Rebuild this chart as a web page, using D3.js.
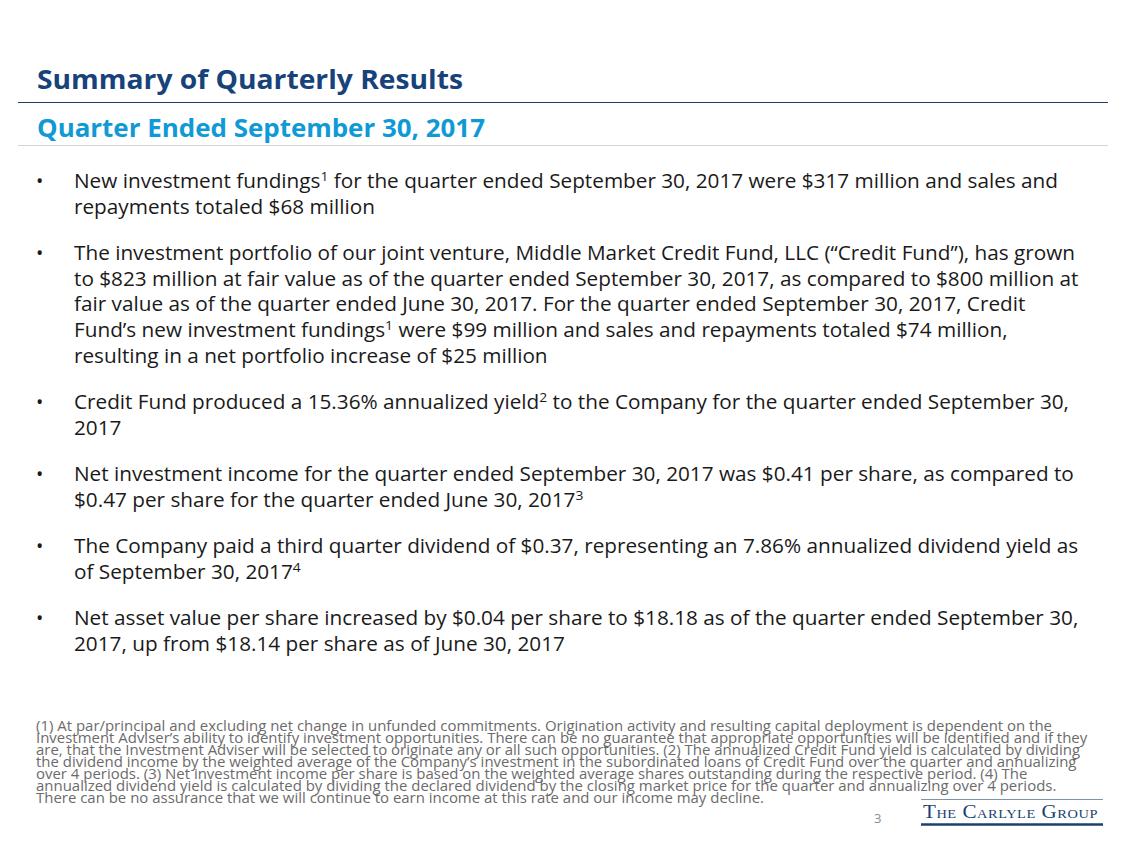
<!DOCTYPE html>
<html>
<head>
<meta charset="utf-8">
<script src="https://cdn.jsdelivr.net/npm/d3@7"></script>
<style>
  html, body { margin: 0; padding: 0; background: #ffffff; }
  svg { display: block; }
</style>
</head>
<body>
<script>
// ---- content ----
const titleText = "Summary of Quarterly Results";
const subtitleText = "Quarter Ended September 30, 2017";

const bullet1 = [
  "New investment fundings^1 for the quarter ended September 30, 2017 were $317 million and sales and",
  "repayments totaled $68 million"
];
const bullet2 = [
  "The investment portfolio of our joint venture, Middle Market Credit Fund, LLC (\u201CCredit Fund\u201D), has grown",
  "to $823 million at fair value as of the quarter ended September 30, 2017, as compared to $800 million at",
  "fair value as of the quarter ended June 30, 2017. For the quarter ended September 30, 2017, Credit",
  "Fund\u2019s new investment fundings^1 were $99 million and sales and repayments totaled $74 million,",
  "resulting in a net portfolio increase of $25 million"
];
const bullet3 = [
  "Credit Fund produced a 15.36% annualized yield^2 to the Company for the quarter ended September 30,",
  "2017"
];
const bullet4 = [
  "Net investment income for the quarter ended September 30, 2017 was $0.41 per share, as compared to",
  "$0.47 per share for the quarter ended June 30, 2017^3"
];
const bullet5 = [
  "The Company paid a third quarter dividend of $0.37, representing an 7.86% annualized dividend yield as",
  "of September 30, 2017^4"
];
const bullet6 = [
  "Net asset value per share increased by $0.04 per share to $18.18 as of the quarter ended September 30,",
  "2017, up from $18.14 per share as of June 30, 2017"
];
const bullets = [bullet1, bullet2, bullet3, bullet4, bullet5, bullet6];

const footnoteLines = [
  "(1) At par/principal and excluding net change in unfunded commitments. Origination activity and resulting capital deployment is dependent on the",
  "Investment Adviser\u2019s ability to identify investment opportunities. There can be no guarantee that appropriate opportunities will be identified and if they",
  "are, that the Investment Adviser will be selected to originate any or all such opportunities. (2) The annualized Credit Fund yield is calculated by dividing",
  "the dividend income by the weighted average of the Company\u2019s investment in the subordinated loans of Credit Fund over the quarter and annualizing",
  "over 4 periods. (3) Net investment income per share is based on the weighted average shares outstanding during the respective period. (4) The",
  "annualized dividend yield is calculated by dividing the declared dividend by the closing market price for the quarter and annualizing over 4 periods.",
  "There can be no assurance that we will continue to earn income at this rate and our income may decline."
];
const pageNumber = "3";
const logoText = "The Carlyle Group";

// ---- drawing ----
const W = 1127, H = 845;
const FONT = "'Open Sans', 'Noto Sans', sans-serif";
const svg = d3.select("body").append("svg").attr("width", W).attr("height", H);
svg.append("rect").attr("width", W).attr("height", H).attr("fill", "#ffffff");

// fit helper: compress a text element horizontally to a target width
function fitWidth(sel, target) {
  const w = sel.node().getComputedTextLength();
  sel.attr("textLength", target).attr("lengthAdjust", "spacingAndGlyphs");
  return target / w;
}

// title
const title = svg.append("text")
  .attr("x", 37).attr("y", 89)
  .attr("font-family", FONT).attr("font-weight", 700).attr("font-size", 27.5)
  .attr("fill", "#17427a").text(titleText);
fitWidth(title, 426);

svg.append("line").attr("x1", 18).attr("x2", 1108).attr("y1", 102.5).attr("y2", 102.5)
  .attr("stroke", "#1c3f6e").attr("stroke-width", 1.2);

const sub = svg.append("text")
  .attr("x", 37).attr("y", 137)
  .attr("font-family", FONT).attr("font-weight", 700).attr("font-size", 24.5)
  .attr("fill", "#0f9ad6").text(subtitleText);
fitWidth(sub, 448);

svg.append("line").attr("x1", 18).attr("x2", 1108).attr("y1", 145.5).attr("y2", 145.5)
  .attr("stroke", "#d6d6d6").attr("stroke-width", 1);

// write a line with ^n superscripts
function writeLine(g, str, x, y, size, color, supSize, supRise) {
  const t = g.append("text").attr("x", x).attr("y", y)
    .attr("font-family", FONT).attr("font-size", size).attr("fill", color);
  const parts = str.split(/\^(\d)/);
  let raised = false;
  parts.forEach((p, i) => {
    if (p === "") return;
    if (i % 2 === 1) {
      t.append("tspan").attr("font-size", supSize).attr("dy", -supRise).text(p);
      raised = true;
    } else {
      const ts = t.append("tspan").text(p);
      if (raised) { ts.attr("dy", supRise); raised = false; }
    }
  });
  return t;
}

// body bullets
const body = svg.append("g");
const BODY_SIZE = 19.5, STEP = 25.7, GAP = 20.6, BODY_X = 74;
let y = 188;
let bodyScale = null;
const bodyTexts = [];
bullets.forEach((lines, bi) => {
  body.append("text").attr("x", 36).attr("y", y)
    .attr("font-family", FONT).attr("font-size", BODY_SIZE).attr("fill", "#1a1a1a").text("\u2022");
  lines.forEach((ln, li) => {
    const t = writeLine(body, ln, BODY_X, y, BODY_SIZE, "#1a1a1a", 13, 7);
    bodyTexts.push(t);
    if (li < lines.length - 1) y += STEP;
  });
  y += STEP + GAP;
});
// uniform horizontal compression so first line spans to x=1058
{
  const w0 = bodyTexts[0].node().getComputedTextLength();
  bodyScale = (1058 - BODY_X) / w0;
  bodyTexts.forEach(t => {
    const w = t.node().getComputedTextLength();
    t.attr("textLength", w * bodyScale).attr("lengthAdjust", "spacingAndGlyphs");
  });
}

// footnotes
const foot = svg.append("g");
const FN_X = 36, FN_SIZE = 14.2;
const fnTexts = footnoteLines.map((ln, i) =>
  foot.append("text").attr("x", FN_X).attr("y", 731 + i * 12)
    .attr("font-family", FONT).attr("font-size", FN_SIZE).attr("fill", "#6b6b6b").text(ln));
{
  const w0 = fnTexts[0].node().getComputedTextLength();
  const k = (1052 - FN_X) / w0;
  fnTexts.forEach(t => {
    const w = t.node().getComputedTextLength();
    t.attr("textLength", w * k).attr("lengthAdjust", "spacingAndGlyphs");
  });
}

// page number
svg.append("text").attr("x", 874).attr("y", 823)
  .attr("font-family", FONT).attr("font-size", 13).attr("fill", "#8a8a8a").text(pageNumber);

// logo
svg.append("line").attr("x1", 921).attr("x2", 1103).attr("y1", 799.5).attr("y2", 799.5)
  .attr("stroke", "#7d93ad").attr("stroke-width", 1);
const logo = svg.append("text").attr("x", 923).attr("y", 818)
  .attr("font-family", "'Liberation Serif', 'DejaVu Serif', serif")
  .attr("font-size", 19).attr("fill", "#1d3f6e")
  .style("font-variant", "small-caps").attr("letter-spacing", 0.5).text(logoText);
fitWidth(logo, 175);
svg.append("line").attr("x1", 921).attr("x2", 1103).attr("y1", 824.5).attr("y2", 824.5)
  .attr("stroke", "#1d3f6e").attr("stroke-width", 2.5);
</script>
</body>
</html>
